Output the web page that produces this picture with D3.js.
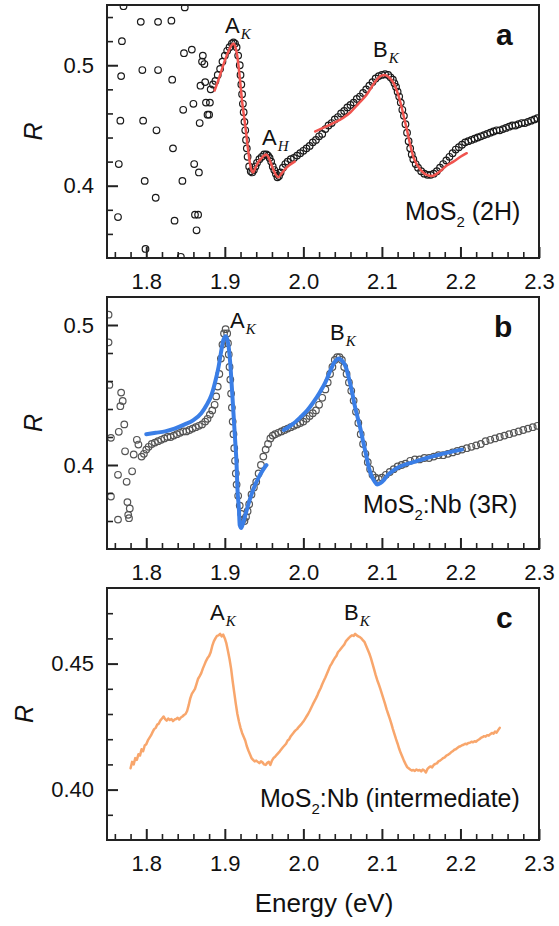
<!DOCTYPE html>
<html>
<head>
<meta charset="utf-8">
<script src="https://cdn.jsdelivr.net/npm/d3@7"></script>
<style>
  body { margin: 0; background: #fff; }
  svg text { font-family: "Liberation Sans", Arial, sans-serif; fill: #111; }
</style>
</head>
<body>
<div id="chart"></div>
<script>
// ---- data ----
const energyDomain = [1.75, 2.3];
const energyTicks = [1.8, 1.9, 2.0, 2.1, 2.2, 2.3];

// panel a: MoS2 (2H)
const yDomainA = [0.34, 0.55];
const yTicksA = [0.4, 0.5];
const noiseA = [
  [1.771,0.549],[1.849,0.548],[1.793,0.536],[1.815,0.536],[1.832,0.537],[1.769,0.520],
  [1.848,0.510],[1.858,0.513],[1.872,0.508],[1.871,0.503],[1.874,0.501],[1.768,0.491],
  [1.795,0.496],[1.815,0.496],[1.833,0.488],[1.869,0.483],[1.875,0.486],[1.847,0.463],
  [1.860,0.468],[1.876,0.469],[1.881,0.469],[1.878,0.459],[1.880,0.459],[1.868,0.452],
  [1.767,0.454],[1.796,0.454],[1.813,0.446],[1.834,0.431],[1.765,0.418],[1.861,0.418],
  [1.867,0.411],[1.798,0.404],[1.846,0.404],[1.812,0.390],[1.764,0.374],[1.836,0.371],
  [1.862,0.376],[1.866,0.376],[1.864,0.363],[1.799,0.3475],[1.844,0.341]
];
const measA = [
  [1.882,.480],[1.885,.484],[1.888,.487],[1.891,.492],[1.894,.497],[1.897,.503],[1.900,.508],
  [1.903,.512],[1.906,.515],[1.909,.518],[1.911,.519],[1.913,.518],[1.915,.515],[1.917,.508],
  [1.919,.500],[1.920,.492],[1.921,.484],[1.922,.476],[1.923,.468],[1.924,.461],[1.925,.453],
  [1.926,.446],[1.927,.438],[1.928,.431],[1.929,.424],[1.931,.416],[1.933,.412],[1.935,.411],
  [1.937,.413],[1.939,.416],[1.941,.419],[1.944,.422],[1.947,.424],[1.950,.426],[1.953,.426],
  [1.955,.425],[1.957,.423],[1.959,.420],[1.961,.416],[1.963,.413],[1.965,.410],[1.967,.407],
  [1.969,.408],[1.971,.411],[1.974,.415],[1.977,.418],[1.980,.420],[1.984,.422],[1.988,.423],
  [1.992,.425],[1.996,.427],[2.000,.429],[2.004,.431],[2.008,.433],[2.012,.436],[2.016,.438],
  [2.020,.441],[2.024,.443],[2.028,.447],[2.032,.450],[2.036,.452],[2.040,.455],[2.044,.457],
  [2.048,.460],[2.052,.462],[2.056,.465],[2.060,.467],[2.064,.469],[2.068,.472],[2.072,.474],
  [2.076,.477],[2.080,.480],[2.084,.483],[2.088,.486],[2.092,.489],[2.096,.491],[2.100,.492],
  [2.104,.4925],[2.108,.492],[2.111,.490],[2.114,.488],[2.116,.485],[2.118,.482],[2.120,.478],
  [2.122,.474],[2.124,.469],[2.126,.463],[2.128,.458],[2.130,.451],[2.132,.444],[2.134,.437],
  [2.136,.431],[2.138,.426],[2.140,.422],[2.143,.418],[2.146,.415],[2.150,.412],[2.154,.410],
  [2.158,.409],[2.162,.409],[2.166,.410],[2.170,.412],[2.174,.415],[2.178,.418],[2.182,.421],
  [2.186,.424],[2.190,.427],[2.194,.430],[2.198,.432],[2.202,.434],[2.206,.436],[2.210,.437],
  [2.214,.438],[2.218,.439],[2.222,.440],[2.226,.441],[2.230,.442],[2.234,.443],[2.238,.444],
  [2.242,.445],[2.246,.446],[2.250,.446],[2.254,.447],[2.258,.448],[2.262,.449],[2.266,.450],
  [2.270,.450],[2.274,.451],[2.278,.452],[2.282,.452],[2.286,.453],[2.290,.454],[2.294,.455],
  [2.298,.456]
];
const fitA1 = [
  [1.887,.479],[1.893,.490],[1.899,.502],[1.905,.512],[1.909,.517],[1.911,.518],[1.913,.516],
  [1.916,.507],[1.919,.490],[1.922,.470],[1.926,.450],[1.930,.428],[1.933,.415],[1.936,.411],
  [1.939,.415],[1.943,.420],[1.947,.423],[1.950,.425],[1.953,.426],[1.956,.423],[1.959,.418],
  [1.962,.413],[1.965,.409],[1.968,.407],[1.972,.410],[1.977,.414],[1.982,.417],[1.989,.420]
];
const fitA2 = [
  [2.015,.445],[2.025,.448],[2.038,.452],[2.050,.456],[2.060,.461],[2.070,.468],[2.081,.476],
  [2.090,.485],[2.098,.491],[2.104,.492],[2.109,.490],[2.115,.485],[2.120,.477],[2.124,.468],
  [2.128,.457],[2.132,.446],[2.136,.434],[2.140,.424],[2.145,.417],[2.151,.412],[2.157,.409],
  [2.164,.408],[2.170,.410],[2.176,.413],[2.183,.417],[2.191,.420],[2.200,.424],[2.208,.427]
];

// panel b: MoS2:Nb (3R)
const yDomainB = [0.34, 0.52];
const yTicksB = [0.4, 0.5];
const noiseB = [
  [1.752,0.5074],[1.752,0.4876],[1.753,0.4572],[1.768,0.4517],[1.770,0.4457],[1.767,0.442],
  [1.755,0.4194],[1.772,0.429],[1.765,0.4237],[1.773,0.4098],[1.784,0.4075],[1.788,0.418],
  [1.790,0.4146],[1.764,0.393],[1.782,0.3955],[1.775,0.388],[1.755,0.3775],[1.776,0.3735],
  [1.779,0.369],[1.777,0.3644],[1.764,0.361],[1.778,0.362]
];
const measB = [
  [1.794,.406],[1.797,.408],[1.800,.411],[1.803,.413],[1.807,.415],[1.811,.416],[1.815,.417],
  [1.819,.418],[1.823,.419],[1.827,.420],[1.831,.420],[1.835,.421],[1.839,.422],[1.843,.423],
  [1.847,.424],[1.851,.424],[1.855,.425],[1.859,.426],[1.863,.427],[1.867,.428],[1.871,.429],
  [1.875,.431],[1.878,.433],[1.881,.436],[1.884,.439],[1.887,.443],[1.889,.449],[1.891,.456],
  [1.893,.465],[1.895,.476],[1.897,.486],[1.899,.494],[1.901,.497],[1.903,.494],[1.904,.487],
  [1.905,.479],[1.906,.470],[1.907,.461],[1.908,.451],[1.909,.441],[1.910,.431],[1.911,.422],
  [1.912,.412],[1.913,.403],[1.914,.394],[1.915,.386],[1.917,.378],[1.919,.371],[1.921,.365],
  [1.923,.361],[1.925,.360],[1.927,.363],[1.929,.367],[1.931,.372],[1.934,.379],[1.937,.384],
  [1.940,.388],[1.943,.394],[1.946,.400],[1.949,.406],[1.952,.411],[1.955,.415],[1.958,.419],
  [1.961,.421],[1.964,.422],[1.968,.423],[1.972,.424],[1.976,.425],[1.980,.426],[1.984,.427],
  [1.988,.428],[1.992,.429],[1.996,.430],[2.000,.431],[2.004,.433],[2.008,.435],[2.012,.437],
  [2.016,.439],[2.020,.443],[2.024,.448],[2.028,.454],[2.031,.459],[2.034,.465],[2.037,.470],
  [2.040,.475],[2.043,.477],[2.046,.477],[2.049,.475],[2.052,.470],[2.055,.465],[2.058,.459],
  [2.061,.453],[2.064,.446],[2.067,.438],[2.070,.430],[2.073,.422],[2.076,.415],[2.079,.408],
  [2.082,.402],[2.085,.397],[2.088,.393],[2.092,.391],[2.096,.390],[2.100,.391],[2.105,.393],
  [2.110,.395],[2.115,.397],[2.120,.399],[2.125,.400],[2.130,.401],[2.136,.403],[2.142,.404],
  [2.148,.404],[2.154,.405],[2.160,.405],[2.166,.406],[2.172,.407],[2.178,.407],[2.184,.408],
  [2.190,.409],[2.196,.410],[2.202,.411],[2.208,.412],[2.214,.413],[2.220,.414],[2.226,.415],
  [2.232,.417],[2.238,.418],[2.244,.419],[2.250,.420],[2.256,.421],[2.262,.422],[2.268,.423],
  [2.274,.424],[2.280,.425],[2.286,.426],[2.292,.427],[2.298,.428]
];
const fitB1 = [
  [1.800,.422],[1.812,.423],[1.824,.424],[1.836,.426],[1.849,.429],[1.860,.432],[1.870,.437],
  [1.877,.443],[1.883,.450],[1.888,.460],[1.892,.470],[1.895,.480],[1.898,.489],[1.901,.492],
  [1.903,.490],[1.905,.484],[1.907,.472],[1.909,.455],[1.911,.437],[1.913,.419],[1.915,.400],
  [1.916,.384],[1.918,.368],[1.919,.357],[1.921,.355],[1.923,.358],[1.926,.364],[1.930,.372],
  [1.934,.379],[1.938,.385],[1.943,.391],[1.948,.396],[1.953,.400]
];
const fitB2 = [
  [1.975,.425],[1.986,.429],[1.996,.434],[2.005,.439],[2.013,.445],[2.021,.452],[2.028,.459],
  [2.034,.467],[2.039,.473],[2.042,.475],[2.045,.476],[2.048,.475],[2.050,.474],[2.054,.470],
  [2.058,.462],[2.062,.452],[2.066,.441],[2.070,.432],[2.073,.425],[2.076,.417],[2.080,.407],
  [2.083,.399],[2.087,.392],[2.091,.388],[2.094,.386],[2.098,.387],[2.102,.389],[2.106,.392],
  [2.112,.395],[2.120,.398],[2.128,.400],[2.140,.402],[2.157,.405],[2.170,.407],[2.185,.409],
  [2.202,.411]
];

// panel c: MoS2:Nb (intermediate)
const yDomainC = [0.38, 0.48];
const yTicksC = [0.40, 0.45];
const measC = [
  [1.780,.4085],[1.782,.4110],[1.784,.4100],[1.786,.4125],[1.788,.4118],[1.790,.4140],[1.792,.4135],
  [1.794,.4160],[1.796,.4152],[1.798,.4175],[1.800,.4180],[1.802,.4195],[1.804,.4205],[1.806,.4215],
  [1.808,.4228],[1.810,.4240],[1.812,.4245],[1.814,.4258],[1.816,.4262],[1.818,.4275],[1.820,.4282],
  [1.822,.4290],[1.824,.4280],[1.826,.4274],[1.828,.4282],[1.830,.4276],[1.832,.4280],[1.834,.4272],
  [1.836,.4278],[1.838,.4280],[1.840,.4285],[1.842,.4278],[1.844,.4286],[1.846,.4290],[1.848,.4296],
  [1.850,.4300],[1.852,.4312],[1.854,.4335],[1.856,.4362],[1.858,.4380],[1.860,.4390],[1.862,.4400],
  [1.864,.4420],[1.866,.4440],[1.868,.4450],[1.870,.4462],[1.872,.4480],[1.874,.4495],[1.876,.4510],
  [1.878,.4522],[1.880,.4530],[1.882,.4545],[1.884,.4570],[1.886,.4588],[1.888,.4600],[1.890,.4610],
  [1.892,.4612],[1.894,.4618],[1.896,.4608],[1.898,.4615],[1.900,.4600],[1.902,.4580],[1.904,.4550],
  [1.906,.4518],[1.908,.4480],[1.910,.4430],[1.912,.4385],[1.914,.4340],[1.916,.4300],[1.918,.4270],
  [1.920,.4245],[1.922,.4225],[1.924,.4210],[1.926,.4195],[1.928,.4172],[1.930,.4155],[1.932,.4140],
  [1.934,.4125],[1.936,.4118],[1.938,.4112],[1.940,.4115],[1.942,.4110],[1.944,.4105],[1.946,.4112],
  [1.948,.4108],[1.950,.4100],[1.952,.4098],[1.954,.4106],[1.956,.4110],[1.958,.4098],[1.960,.4115],
  [1.962,.4125],[1.964,.4130],[1.966,.4138],[1.968,.4145],[1.970,.4152],[1.972,.4160],[1.974,.4168],
  [1.976,.4175],[1.978,.4182],[1.980,.4195],[1.982,.4200],[1.984,.4212],[1.986,.4220],[1.988,.4228],
  [1.990,.4235],[1.992,.4240],[1.994,.4248],[1.996,.4255],[1.998,.4262],[2.000,.4270],[2.002,.4280],
  [2.004,.4290],[2.006,.4300],[2.008,.4312],[2.010,.4325],[2.012,.4338],[2.014,.4350],[2.016,.4362],
  [2.018,.4375],[2.020,.4390],[2.022,.4402],[2.024,.4418],[2.026,.4432],[2.028,.4445],[2.030,.4460],
  [2.032,.4475],[2.034,.4490],[2.036,.4500],[2.038,.4512],[2.040,.4522],[2.042,.4530],[2.044,.4545],
  [2.046,.4552],[2.048,.4560],[2.050,.4568],[2.052,.4575],[2.054,.4588],[2.056,.4595],[2.058,.4602],
  [2.060,.4608],[2.062,.4612],[2.064,.4610],[2.066,.4618],[2.068,.4612],[2.070,.4608],[2.072,.4605],
  [2.074,.4600],[2.076,.4592],[2.078,.4585],[2.080,.4570],[2.082,.4555],[2.084,.4540],[2.086,.4522],
  [2.088,.4500],[2.090,.4478],[2.092,.4455],[2.094,.4435],[2.096,.4418],[2.098,.4400],[2.100,.4380],
  [2.102,.4360],[2.104,.4340],[2.106,.4318],[2.108,.4300],[2.110,.4282],[2.112,.4262],[2.114,.4240],
  [2.116,.4220],[2.118,.4200],[2.120,.4182],[2.122,.4162],[2.124,.4145],[2.126,.4130],[2.128,.4115],
  [2.130,.4102],[2.132,.4090],[2.134,.4085],[2.136,.4080],[2.138,.4076],[2.140,.4078],[2.142,.4074],
  [2.144,.4080],[2.146,.4076],[2.148,.4078],[2.150,.4072],[2.152,.4080],[2.154,.4076],[2.156,.4068],
  [2.158,.4082],[2.160,.4088],[2.162,.4092],[2.164,.4088],[2.166,.4098],[2.168,.4102],[2.170,.4104],
  [2.172,.4112],[2.174,.4115],[2.176,.4120],[2.178,.4125],[2.180,.4128],[2.182,.4135],[2.184,.4138],
  [2.186,.4142],[2.188,.4148],[2.190,.4152],[2.192,.4158],[2.194,.4160],[2.196,.4165],[2.198,.4170],
  [2.200,.4172],[2.202,.4176],[2.204,.4178],[2.206,.4182],[2.208,.4180],[2.210,.4185],[2.212,.4186],
  [2.214,.4190],[2.216,.4188],[2.218,.4192],[2.220,.4190],[2.222,.4196],[2.224,.4200],[2.226,.4205],
  [2.228,.4208],[2.230,.4212],[2.232,.4210],[2.234,.4216],[2.236,.4214],[2.238,.4220],[2.240,.4225],
  [2.242,.4222],[2.244,.4230],[2.246,.4226],[2.248,.4236],[2.250,.4245]
];

// ---- layout ----
const width = 559, height = 926;
const plotLeft = 107, plotRight = 539;
const font = "Liberation Sans, Arial, sans-serif";

let svg = d3.select("#chart")
    .append("svg")
    .attr("width", width)
    .attr("height", height)
    .style("background", "#fff");

let x = d3.scaleLinear()
    .domain(energyDomain)
    .range([plotLeft, plotRight]);

// minor ticks every 0.02 eV (skip the labelled ones)
const xMinor = d3.range(1.76, 2.3, 0.02).filter(v => Math.abs(v * 10 - Math.round(v * 10)) > 1e-6);

function drawPanel(p) {
    let y = d3.scaleLinear().domain(p.yDomain).range([p.bottom, p.top]);
    let g = svg.append("g");

    g.append("clipPath").attr("id", "clip-" + p.id)
        .append("rect")
        .attr("x", plotLeft).attr("y", p.top)
        .attr("width", plotRight - plotLeft).attr("height", p.bottom - p.top);

    let plot = g.append("g").attr("clip-path", `url(#clip-${p.id})`);

    if (p.points) {
        plot.selectAll("circle")
            .data(p.points)
            .enter()
            .append("circle")
            .attr("cx", d => x(d[0]))
            .attr("cy", d => y(d[1]))
            .attr("r", 3.3)
            .attr("fill", "none")
            .attr("stroke", p.pointColor)
            .attr("stroke-width", 1.2);
    }

    let line = d3.line().x(d => x(d[0])).y(d => y(d[1])).curve(d3.curveMonotoneX);
    (p.lines || []).forEach(l => {
        plot.append("path")
            .datum(l.data)
            .attr("fill", "none")
            .attr("stroke", l.color)
            .attr("stroke-width", l.width)
            .attr("stroke-linejoin", "round")
            .attr("stroke-linecap", "round")
            .attr("d", l.curve ? line : d3.line().x(d => x(d[0])).y(d => y(d[1])));
    });

    // x axis: minor + major, ticks pointing inward
    g.append("g")
        .attr("transform", `translate(0,${p.bottom})`)
        .call(d3.axisBottom(x).tickValues(xMinor).tickSize(-6).tickFormat(""))
        .call(a => a.select(".domain").remove())
        .selectAll("line").attr("stroke", "#222").attr("stroke-width", 1.6);

    g.append("g")
        .attr("transform", `translate(0,${p.bottom})`)
        .call(d3.axisBottom(x).tickValues(energyTicks).tickSize(-11).tickPadding(15).tickFormat(d3.format(".1f")))
        .call(a => a.select(".domain").remove())
        .call(a => a.selectAll("line").attr("stroke", "#222").attr("stroke-width", 2))
        .attr("font-size", 22).attr("font-family", font);

    // y axis
    g.append("g")
        .attr("transform", `translate(${plotLeft},0)`)
        .call(d3.axisLeft(y).tickValues(p.yMinor).tickSize(-6).tickFormat(""))
        .call(a => a.select(".domain").remove())
        .selectAll("line").attr("stroke", "#222").attr("stroke-width", 1.6);

    g.append("g")
        .attr("transform", `translate(${plotLeft},0)`)
        .call(d3.axisLeft(y).tickValues(p.yTicks).tickSize(-11).tickPadding(13).tickFormat(d3.format(p.yFormat)))
        .call(a => a.select(".domain").remove())
        .call(a => a.selectAll("line").attr("stroke", "#222").attr("stroke-width", 2))
        .attr("font-size", 22).attr("font-family", font);

    // frame
    g.append("rect")
        .attr("x", plotLeft).attr("y", p.top)
        .attr("width", plotRight - plotLeft).attr("height", p.bottom - p.top)
        .attr("fill", "none").attr("stroke", "#222").attr("stroke-width", 2);

    // y label
    g.append("text")
        .attr("transform", `translate(${p.rX}, ${(p.top + p.bottom) / 2}) rotate(-90)`)
        .style("text-anchor", "middle")
        .style("font-size", "25px")
        .style("font-style", "italic")
        .text("R");

    // panel letter
    g.append("text")
        .attr("x", p.letterPos[0]).attr("y", p.letterPos[1])
        .style("font-size", "30px")
        .style("font-weight", "bold")
        .text(p.letter);

    // peak labels
    p.peaks.forEach(k => {
        let t = g.append("text").attr("x", k.pos[0]).attr("y", k.pos[1]).style("font-size", "22px");
        t.append("tspan").text(k.main);
        t.append("tspan")
            .attr("dx", 1).attr("dy", 6)
            .style("font-family", "Liberation Serif, Times New Roman, serif")
            .style("font-style", "italic")
            .style("font-size", "15px")
            .text(k.sub);
    });

    // sample label
    let s = g.append("text").attr("x", p.samplePos[0]).attr("y", p.samplePos[1]).style("font-size", "25px");
    s.append("tspan").text("MoS");
    s.append("tspan").attr("dy", 7).style("font-size", "15px").text("2");
    s.append("tspan").attr("dy", -7).text(p.sampleRest);
}

function minorTicks(lo, hi, step, majors) {
    return d3.range(lo, hi + step / 2, step)
        .filter(v => !majors.some(m => Math.abs(m - v) < 1e-6));
}

drawPanel({
    id: "a", top: 5, bottom: 258, yDomain: yDomainA, yTicks: yTicksA, yFormat: ".1f",
    yMinor: minorTicks(0.36, 0.54, 0.02, yTicksA),
    points: noiseA.concat(measA), pointColor: "#1a1a1a",
    lines: [
        { data: fitA1, color: "#f0544f", width: 2.5, curve: true },
        { data: fitA2, color: "#f0544f", width: 2.5, curve: true }
    ],
    rX: 42, letter: "a", letterPos: [496, 45],
    peaks: [
        { main: "A", sub: "K", pos: [225, 33] },
        { main: "A", sub: "H", pos: [262, 145] },
        { main: "B", sub: "K", pos: [373, 57] }
    ],
    samplePos: [405, 220], sampleRest: " (2H)"
});

drawPanel({
    id: "b", top: 297, bottom: 549, yDomain: yDomainB, yTicks: yTicksB, yFormat: ".1f",
    yMinor: minorTicks(0.36, 0.50, 0.02, yTicksB),
    points: noiseB.concat(measB), pointColor: "#555",
    lines: [
        { data: fitB1, color: "#3a7ee6", width: 4, curve: true },
        { data: fitB2, color: "#3a7ee6", width: 4, curve: true }
    ],
    rX: 42, letter: "b", letterPos: [494, 337],
    peaks: [
        { main: "A", sub: "K", pos: [230, 328] },
        { main: "B", sub: "K", pos: [330, 340] }
    ],
    samplePos: [363, 513], sampleRest: ":Nb (3R)"
});

drawPanel({
    id: "c", top: 588, bottom: 840, yDomain: yDomainC, yTicks: yTicksC, yFormat: ".2f",
    yMinor: minorTicks(0.39, 0.47, 0.01, yTicksC),
    lines: [
        { data: measC, color: "#f8a66c", width: 2.5, curve: false }
    ],
    rX: 33, letter: "c", letterPos: [496, 628],
    peaks: [
        { main: "A", sub: "K", pos: [210, 620] },
        { main: "B", sub: "K", pos: [344, 620] }
    ],
    samplePos: [260, 807], sampleRest: ":Nb (intermediate)"
});

svg.append("text")
    .attr("x", 324).attr("y", 912)
    .style("text-anchor", "middle")
    .style("font-size", "26px")
    .text("Energy (eV)");
</script>
</body>
</html>
